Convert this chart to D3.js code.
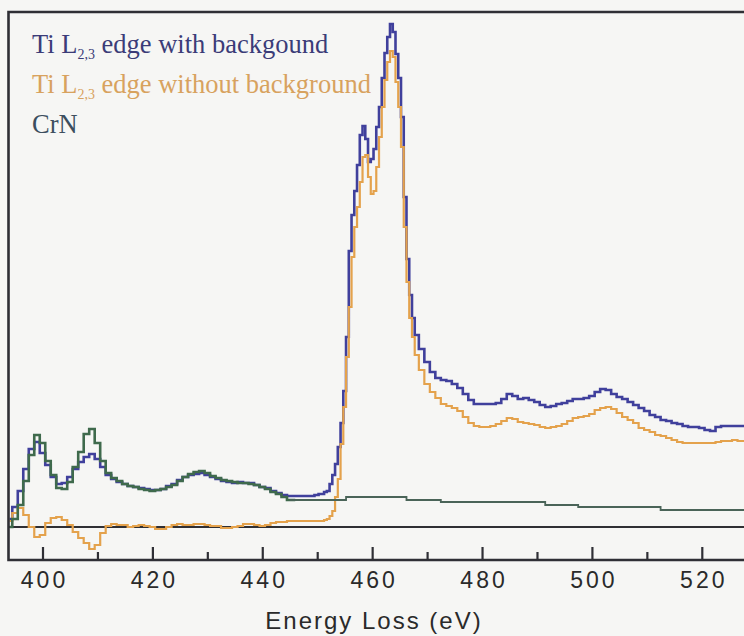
<!DOCTYPE html>
<html>
<head>
<meta charset="utf-8">
<script src="https://cdn.jsdelivr.net/npm/d3@7"></script>
<style>
  body { margin: 0; background: #f6f6f4; overflow: hidden; }
  .chart svg { display: block; }
</style>
</head>
<body>
<div class="chart"></div>
<script>
/* global d3 */

// energy channels (eV): 1 eV steps, 0.5 eV steps across the L2,3 white lines
var energy = d3.range(394, 450, 1)
  .concat(d3.range(450, 468, 0.5))
  .concat(d3.range(468, 529, 1));

// Ti L2,3 edge with background
var withBg = [
  8, 20, 36, 58, 78, 85, 74, 62, 50, 43,          // 394-403
  44, 50, 58, 65, 70, 73, 68, 60, 52, 48,         // 404-413
  45, 43, 41, 40, 39, 38, 37, 37, 38, 41,         // 414-423
  43, 47, 50, 52, 53, 54, 52, 50, 48, 46,         // 424-433
  45, 44, 45, 44, 44, 42, 40, 39, 36, 34,         // 434-443
  32, 31, 31, 31, 31, 31,                         // 444-449
  32, 33, 33, 35, 36, 43, 52, 63, 80, 104,        // 450-454.5
  136, 190, 276, 312, 336, 362, 392, 401, 388, 365, // 455-459.5
  368, 378, 400, 420, 449, 474, 490, 503, 495, 473, // 460-464.5
  449, 410, 330, 268, 232, 209,                   // 465-467.5
  192, 178, 165, 155, 149, 147, 146, 143, 139, 133, // 468-477
  127, 123, 123, 123, 123, 124, 128, 133, 131, 128, // 478-487
  129, 127, 125, 122, 120, 121, 123, 124, 126, 128, // 488-497
  128, 129, 131, 135, 138, 137, 133, 130, 128, 125, // 498-507
  122, 119, 116, 112, 110, 107, 106, 104, 103, 101, // 508-517
  100, 100, 99, 97, 96, 100, 101, 101, 101, 101,  // 518-527
  101                                             // 528
];

// Ti L2,3 edge without background
var noBg = [
  6, 14, 19, 12, 0, -10, -8, 4, 9, 10,
  7, 2, -5, -11, -16, -22, -18, -6, 1, 3,
  2, 2, 0, 1, 2, 1, 0, -2, -2, 0,
  2, 3, 2, 2, 3, 3, 2, 1, 1, -1,
  -1, 0, 1, 3, 3, 2, 1, 2, 4, 5,
  5, 6, 6, 6, 6, 6,
  6, 6, 6, 7, 8, 11, 16, 30, 48, 83,
  120, 170, 220, 270, 300, 320, 345, 370, 372, 350,
  333, 336, 360, 390, 420, 447, 465, 476, 470, 445,
  420, 380, 300, 245, 209, 190,
  172, 157, 143, 135, 129, 123, 121, 119, 116, 110,
  104, 101, 100, 100, 101, 103, 106, 109, 108, 105,
  104, 103, 102, 100, 99, 100, 101, 103, 106, 109,
  110, 111, 113, 117, 119, 120, 118, 114, 110, 107,
  104, 99, 97, 95, 92, 91, 89, 87, 85, 84,
  84, 84, 84, 84, 84, 85, 86, 86, 87, 86,
  86
];

// CrN reference (and its extrapolated background past 445 eV)
var crn = [
  0, 8, 22, 46, 72, 92, 84, 66, 52, 39,
  38, 45, 60, 75, 93, 98, 84, 66, 54, 49,
  46, 43, 41, 40, 38, 37, 36, 37, 38, 40,
  42, 46, 50, 53, 55, 56, 54, 51, 49, 47,
  46, 45, 44, 44, 43, 42, 40, 38, 35, 33,
  30, 27, 27, 27, 27, 27,
  27, 27, 27, 27, 27, 27, 27, 27, 27, 27,
  27, 30, 30, 30, 30, 30, 30, 30, 30, 30,
  30, 30, 30, 30, 30, 30, 30, 30, 30, 30,
  30, 30, 30, 27, 27, 27,
  27, 27, 27, 27, 27, 25, 25, 25, 25, 25,
  25, 25, 25, 25, 25, 25, 25, 25, 25, 25,
  25, 25, 25, 25, 22, 22, 22, 22, 22, 22,
  20, 20, 20, 20, 20, 20, 20, 20, 20, 20,
  20, 20, 20, 20, 20, 17, 17, 17, 17, 17,
  17, 17, 17, 17, 17, 17, 17, 17, 17, 17,
  17
];

var majorTicks = [400, 420, 440, 460, 480, 500, 520];
var minorTicks = [410, 430, 450, 470, 490, 510];

var legendItems = [
  {pre: "Ti L", sub: "2,3", post: " edge with backgound", color: "#3b3c78"},
  {pre: "Ti L", sub: "2,3", post: " edge without background", color: "#d8a25e"},
  {pre: "CrN", sub: "", post: "", color: "#3c4e5e"}
];

make_chart();

function make_chart() {
  var width = 744;
  var height = 636;

  var x = d3.scaleLinear().domain([400, 520]).range([42.5, 701.8]);
  var y = d3.scaleLinear().domain([0, 500]).range([527, 27]);

  var frameLeft = 8.5, frameTop = 12, frameBottom = 560, frameRight = 760;

  var svg = d3.select(".chart")
    .append("svg")
    .attr("width", width)
    .attr("height", height);

  var rows = energy.map(function(e, i) {
    return {e: e, a: withBg[i], b: noBg[i], c: crn[i]};
  });

  var line = function(key) {
    return d3.line()
      .curve(d3.curveStep)
      .x(function(d) { return x(d.e); })
      .y(function(d) { return y(d[key]); });
  };

  // zero line
  svg.append("line")
    .attr("x1", frameLeft).attr("x2", frameRight)
    .attr("y1", y(0)).attr("y2", y(0))
    .attr("stroke", "#2f2f33")
    .attr("stroke-width", 2.2);

  svg.append("path")
    .datum(rows)
    .attr("d", line("a"))
    .attr("fill", "none")
    .attr("stroke", "#40409c")
    .attr("stroke-width", 2.6);

  svg.append("path")
    .datum(rows)
    .attr("d", line("b"))
    .attr("fill", "none")
    .attr("stroke", "#e4a24c")
    .attr("stroke-width", 2.2);

  svg.append("path")
    .datum(rows.filter(function(d) { return d.e <= 446; }))
    .attr("d", line("c"))
    .attr("fill", "none")
    .attr("stroke", "#3f6a4c")
    .attr("stroke-width", 2.6);

  svg.append("path")
    .datum(rows.filter(function(d) { return d.e >= 445; }))
    .attr("d", line("c"))
    .attr("fill", "none")
    .attr("stroke", "#4a6458")
    .attr("stroke-width", 1.8);

  // frame: left, top, bottom (right side runs off the page)
  svg.append("path")
    .attr("d", "M" + frameRight + "," + frameTop + "H" + frameLeft + "V" + frameBottom + "H" + frameRight)
    .attr("fill", "none")
    .attr("stroke", "#2f2f35")
    .attr("stroke-width", 2.6);

  var axisMajor = d3.axisBottom(x)
    .tickValues(majorTicks)
    .tickSize(-13)
    .tickPadding(12)
    .tickFormat(d3.format("d"));

  var gx = svg.append("g")
    .attr("transform", "translate(0," + frameBottom + ")")
    .call(axisMajor);
  gx.select(".domain").remove();
  gx.selectAll(".tick line").attr("stroke", "#2f2f35").attr("stroke-width", 2.2);
  gx.selectAll(".tick text")
    .attr("fill", "#2a2a2a")
    .attr("dx", "1.5px")
    .style("font-family", "'Liberation Sans', Arial, sans-serif")
    .style("font-size", "23px")
    .style("letter-spacing", "3px");

  var gm = svg.append("g")
    .attr("transform", "translate(0," + frameBottom + ")")
    .call(d3.axisBottom(x).tickValues(minorTicks).tickSize(-8).tickFormat(""));
  gm.select(".domain").remove();
  gm.selectAll(".tick line").attr("stroke", "#2f2f35").attr("stroke-width", 2.2);

  svg.append("text")
    .attr("x", 374)
    .attr("y", 629)
    .attr("text-anchor", "middle")
    .attr("fill", "#2a2a2a")
    .style("font-family", "'Liberation Sans', Arial, sans-serif")
    .style("font-size", "24px")
    .style("letter-spacing", "2px")
    .text("Energy Loss (eV)");

  // legend
  var legend = svg.append("g")
    .style("font-family", "'Liberation Serif', 'Times New Roman', serif");

  legendItems.forEach(function(item, i) {
    var t = legend.append("text")
      .attr("x", 32)
      .attr("y", 53 + i * 40)
      .attr("fill", item.color)
      .style("font-size", "26.5px");
    t.append("tspan").text(item.pre);
    if (item.sub) {
      t.append("tspan")
        .attr("dy", 6)
        .style("font-size", "14px")
        .text(item.sub);
      t.append("tspan")
        .attr("dy", -6)
        .text(item.post);
    }
  });
}
</script>
</body>
</html>
